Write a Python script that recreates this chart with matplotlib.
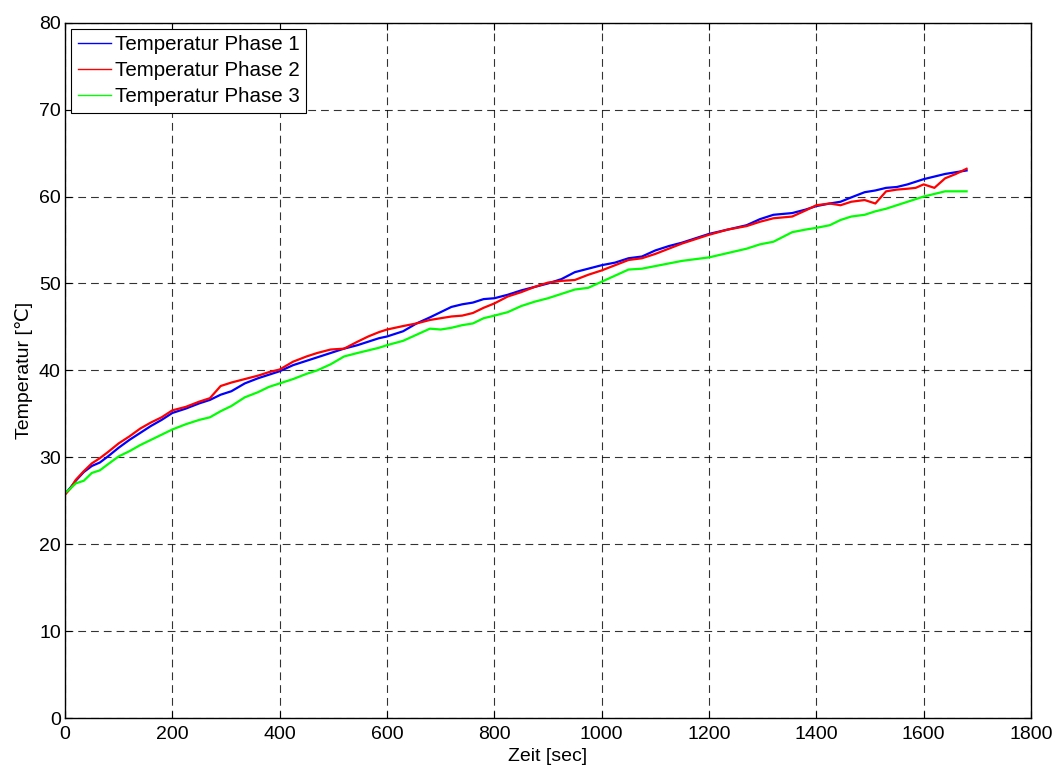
import matplotlib
matplotlib.use("Agg")
import matplotlib.pyplot as plt

plt.rcParams['font.family'] = ['Liberation Sans', 'DejaVu Sans']
plt.rcParams['font.size'] = 14

# Sample times in seconds
zeit = [0, 10, 20, 35, 50, 65, 80, 100, 120, 140, 160, 180, 200, 225, 250, 270,
        290, 310, 335, 360, 380, 400, 425, 450, 470, 495, 520, 545, 565, 585,
        600, 630, 655, 680, 700, 720, 740, 760, 780, 800, 825, 850, 875, 900,
        925, 950, 975, 1000, 1025, 1050, 1075, 1100, 1125, 1150, 1175, 1200,
        1235, 1270, 1295, 1320, 1355, 1380, 1400, 1425, 1445, 1465, 1490, 1510,
        1530, 1550, 1570, 1585, 1600, 1620, 1640, 1660, 1680]

phase1 = [25.8, 26.5, 27.3, 28.3, 29.0, 29.4, 30.1, 31.1, 32.0, 32.8, 33.6, 34.3,
          35.1, 35.6, 36.2, 36.6, 37.2, 37.6, 38.5, 39.1, 39.5, 39.9, 40.6, 41.1,
          41.5, 42.0, 42.5, 42.9, 43.3, 43.7, 43.9, 44.5, 45.4, 46.1, 46.7, 47.3,
          47.6, 47.8, 48.2, 48.3, 48.7, 49.2, 49.6, 50.0, 50.5, 51.3, 51.7, 52.1,
          52.4, 52.9, 53.1, 53.8, 54.3, 54.7, 55.2, 55.7, 56.2, 56.7, 57.4, 57.9,
          58.1, 58.5, 58.9, 59.2, 59.4, 59.9, 60.5, 60.7, 61.0, 61.1, 61.4, 61.7,
          62.0, 62.3, 62.6, 62.8, 63.0]

phase2 = [25.7, 26.4, 27.4, 28.4, 29.3, 29.9, 30.6, 31.6, 32.4, 33.3, 34.0, 34.6,
          35.4, 35.8, 36.4, 36.8, 38.2, 38.6, 39.0, 39.4, 39.8, 40.1, 41.0, 41.6,
          42.0, 42.4, 42.5, 43.3, 43.9, 44.4, 44.7, 45.1, 45.4, 45.8, 46.0, 46.2,
          46.3, 46.6, 47.2, 47.7, 48.5, 49.0, 49.6, 50.1, 50.3, 50.4, 51.0, 51.5,
          52.1, 52.7, 52.9, 53.4, 54.0, 54.6, 55.1, 55.6, 56.2, 56.6, 57.1, 57.5,
          57.7, 58.4, 59.0, 59.2, 59.0, 59.4, 59.6, 59.2, 60.6, 60.8, 60.9, 61.0,
          61.4, 61.0, 62.1, 62.6, 63.2]

phase3 = [25.9, 26.4, 27.0, 27.3, 28.2, 28.5, 29.2, 30.1, 30.7, 31.4, 32.0, 32.6,
          33.2, 33.8, 34.3, 34.6, 35.3, 35.9, 36.9, 37.5, 38.1, 38.5, 39.0, 39.6,
          40.0, 40.7, 41.6, 42.0, 42.3, 42.6, 42.9, 43.4, 44.1, 44.8, 44.7, 44.9,
          45.2, 45.4, 46.0, 46.3, 46.7, 47.4, 47.9, 48.3, 48.8, 49.3, 49.5, 50.2,
          50.9, 51.6, 51.7, 52.0, 52.3, 52.6, 52.8, 53.0, 53.5, 54.0, 54.5, 54.8,
          55.9, 56.2, 56.4, 56.7, 57.3, 57.7, 57.9, 58.3, 58.6, 59.0, 59.4, 59.7,
          60.0, 60.3, 60.6, 60.6, 60.6]

labels = ["Temperatur Phase 1", "Temperatur Phase 2", "Temperatur Phase 3"]
colors = ["#0000ff", "#ff0000", "#00ff00"]

x_ticks = list(range(0, 1801, 200))
y_ticks = list(range(0, 81, 10))

fig = plt.figure(figsize=(10.57, 7.65), dpi=100)
ax = fig.add_axes([0.0615, 0.0614, 0.9139, 0.9089])

for series, lab, col in zip([phase1, phase2, phase3], labels, colors):
    ax.plot(zeit, series, color=col, linewidth=1.6, label=lab)

ax.set_xlim(0, 1800)
ax.set_ylim(0, 80)
ax.set_xticks(x_ticks)
ax.set_yticks(y_ticks)
ax.tick_params(direction='in', length=5, width=0.8, top=True, right=True,
               labelsize=14, colors='black')
ax.tick_params(axis='x', pad=6)
ax.tick_params(axis='y', pad=3)
for sp in ax.spines.values():
    sp.set_linewidth(1.0)
    sp.set_color('black')

ax.grid(True, color='black', linewidth=0.8, linestyle=(0, (7, 4.5)), alpha=0.8)
ax.set_axisbelow(True)

ax.set_xlabel("Zeit [sec]", fontsize=14, labelpad=3)
ax.set_ylabel("Temperatur [\u2103]", fontsize=14, labelpad=4)

leg = ax.legend(loc='upper left', fontsize=14.8, handlelength=1.6, handletextpad=0.2,
                borderpad=0.32, labelspacing=0.33, borderaxespad=0.3, fancybox=False,
                framealpha=1, edgecolor='black')
leg.get_frame().set_linewidth(0.8)
for line in leg.get_lines():
    line.set_linewidth(1.0)

fig.savefig("out.png", dpi=100)
